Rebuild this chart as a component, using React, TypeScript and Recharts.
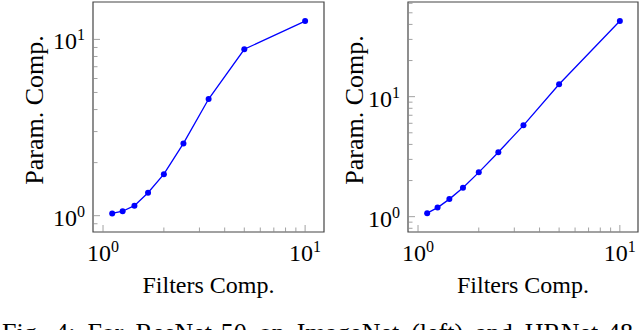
import { LineChart, Line, XAxis, YAxis, Label, ReferenceArea } from 'recharts'

const filtersComp = [1.11, 1.25, 1.43, 1.67, 2, 2.5, 3.33, 5, 10]
const resnetParam = [1.03, 1.06, 1.14, 1.35, 1.72, 2.57, 4.59, 8.79, 12.7]
const hrnetParam = [1.07, 1.19, 1.4, 1.74, 2.34, 3.44, 5.77, 12.7, 42.7]

const xTicks = [1, 2, 3, 4, 5, 6, 7, 8, 9, 10]
const leftYTicks = [0.9, 1, 2, 3, 4, 5, 6, 7, 8, 9, 10]
const rightYTicks = [0.8, 0.9, 1, 2, 3, 4, 5, 6, 7, 8, 9, 10, 20, 30, 40, 50, 60]

const captionWords = ['Fig.', '4:', 'For', 'ResNet-50', 'on', 'ImageNet', '(left)', 'and', 'HRNet-48']

const SERIF = "'Liberation Serif', 'Times New Roman', serif"
const FRAME = '#454545'
const TICK = '#8a8a8a'
const BLUE = '#0000ff'

const exponent = (v: number) => {
  const l = Math.log10(v)
  return Math.abs(l - Math.round(l)) < 1e-9 ? Math.round(l) : null
}

const XTick = (props: any) => {
  const { x, y, payload } = props
  const e = exponent(payload.value)
  return (
    <g>
      <line x1={x} x2={x} y1={y} y2={y - (e !== null ? 7 : 4.5)} stroke={TICK} strokeWidth={0.8} />
      {e !== null && (
        <text x={x} y={y + 29} textAnchor="middle" fontFamily={SERIF} fontSize={24} fill="#000">
          10<tspan dy={-9} fontSize={16}>{e}</tspan>
        </text>
      )}
    </g>
  )
}

const YTick = (props: any) => {
  const { x, y, payload } = props
  const e = exponent(payload.value)
  return (
    <g>
      <line x1={x} x2={x + (e !== null ? 7 : 4.5)} y1={y} y2={y} stroke={TICK} strokeWidth={0.8} />
      {e !== null && (
        <text x={x - 8} y={y + 10} textAnchor="end" fontFamily={SERIF} fontSize={24} fill="#000">
          10<tspan dy={-9} fontSize={16}>{e}</tspan>
        </text>
      )}
    </g>
  )
}

const xLabel = (props: any) => {
  const vb = props.viewBox
  return (
    <text x={vb.x + vb.width / 2} y={vb.y + 61} textAnchor="middle" fontFamily={SERIF} fontSize={24} fill="#000">
      Filters Comp.
    </text>
  )
}

const yLabel = (offset: number) => (props: any) => {
  const vb = props.viewBox
  const cx = vb.x + vb.width - offset
  const cy = 110
  return (
    <text x={cx} y={cy} transform={`rotate(-90 ${cx} ${cy})`} textAnchor="middle" fontFamily={SERIF} fontSize={26} fill="#000">
      Param. Comp.
    </text>
  )
}

function Panel(props: {
  values: number[]
  width: number
  yWidth: number
  right: number
  xDomain: number[]
  yDomain: number[]
  yTicks: number[]
  labelOffset: number
}) {
  const data = filtersComp.map((f, i) => ({ f, p: props.values[i] }))
  return (
    <LineChart width={props.width} height={300} data={data} margin={{ top: 2, right: props.right, bottom: 0, left: 0 }}>
      <XAxis
        dataKey="f"
        type="number"
        scale="log"
        domain={props.xDomain}
        allowDataOverflow
        ticks={xTicks}
        interval={0}
        tick={XTick}
        tickLine={false}
        tickSize={0}
        tickMargin={0}
        height={68}
        axisLine={false}
      >
        <Label content={xLabel} />
      </XAxis>
      <YAxis
        dataKey="p"
        type="number"
        scale="log"
        domain={props.yDomain}
        allowDataOverflow
        ticks={props.yTicks}
        interval={0}
        tick={YTick}
        tickLine={false}
        tickSize={0}
        tickMargin={0}
        width={props.yWidth}
        axisLine={false}
      >
        <Label content={yLabel(props.labelOffset)} />
      </YAxis>
      <ReferenceArea
        x1={props.xDomain[0]}
        x2={props.xDomain[1]}
        y1={props.yDomain[0]}
        y2={props.yDomain[1]}
        fill="none"
        fillOpacity={0}
        stroke={FRAME}
        strokeWidth={1.2}
        ifOverflow="visible"
      />
      <Line
        dataKey="p"
        type="linear"
        stroke={BLUE}
        strokeWidth={1.3}
        dot={{ r: 3, fill: BLUE, stroke: BLUE, strokeWidth: 0 }}
        isAnimationActive={false}
      />
    </LineChart>
  )
}

export default function App() {
  return (
    <div style={{ position: 'absolute', left: 0, top: 0, width: 640, height: 330, overflow: 'hidden', background: '#fff' }}>
      <div style={{ position: 'absolute', left: 0, top: 0 }}>
        <Panel values={resnetParam} width={330} yWidth={93} right={6} xDomain={[0.892, 12.4]} yDomain={[0.808, 16.3]} yTicks={leftYTicks} labelOffset={50} />
      </div>
      <div style={{ position: 'absolute', left: 330, top: 0 }}>
        <Panel values={hrnetParam} width={310} yWidth={78} right={2} xDomain={[0.892, 12.3]} yDomain={[0.745, 61.5]} yTicks={rightYTicks} labelOffset={45} />
      </div>
      <div
        style={{
          position: 'absolute',
          left: 2,
          top: 320,
          width: 631,
          display: 'flex',
          justifyContent: 'space-between',
          fontFamily: SERIF,
          fontSize: 26,
          lineHeight: '26px',
          whiteSpace: 'nowrap',
          color: '#000',
        }}
      >
        {captionWords.map(w => (
          <span key={w}>{w}</span>
        ))}
      </div>
    </div>
  )
}
